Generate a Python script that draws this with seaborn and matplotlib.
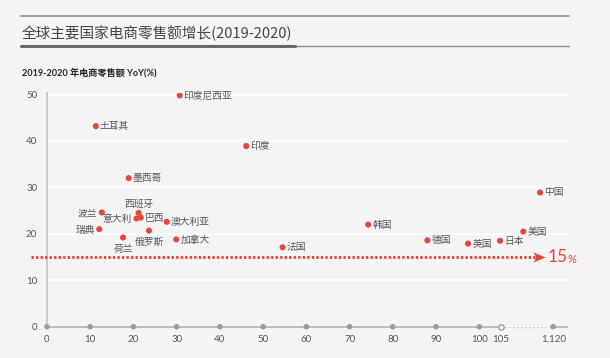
import numpy as np
import pandas as pd
import matplotlib
matplotlib.use("Agg")
import matplotlib.pyplot as plt
from matplotlib.lines import Line2D
from matplotlib.path import Path
import seaborn as sns

# ---------------- data ----------------
countries = ["印度尼西亚", "土耳其", "印度", "墨西哥", "波兰", "西班牙", "意大利", "巴西",
             "澳大利亚", "瑞典", "俄罗斯", "荷兰", "加拿大", "法国", "韩国", "德国",
             "英国", "日本", "美国", "中国"]
sales = [30.7, 11.3, 46.1, 18.9, 12.7, 21.2, 20.7, 21.7,
         27.7, 12.1, 23.6, 17.6, 29.9, 54.5, 74.3, 88.0,
         97.4, 104.8, 540, 865]
growth = [49.8, 43.2, 38.9, 32.0, 24.6, 24.5, 23.3, 23.5,
          22.6, 21.0, 20.7, 19.2, 18.8, 17.1, 22.0, 18.6,
          17.9, 18.5, 20.5, 28.9]
x_ticks = [0, 10, 20, 30, 40, 50, 60, 70, 80, 90, 100, 105, 1120]
x_tick_labels = ["0", "10", "20", "30", "40", "50", "60", "70", "80", "90", "100", "105", "1,120"]
y_ticks = [0, 10, 20, 30, 40, 50]
threshold = 15
break_start, break_end = 105, 1120

title = "全球主要国家电商零售额增长(2019-2020)"
subtitle = "2019-2020 年电商零售额 YoY(%)"

# label placement (layout only)
label_place = {
    "波兰": "left", "意大利": "left", "瑞典": "left",
    "西班牙": "above", "荷兰": "below", "俄罗斯": "below",
}

df = pd.DataFrame({"country": countries, "sales": sales, "growth": growth})

# ---------------- style ----------------
sns.set_theme(style="white")
BG = "#f4f4f4"
RED = "#e8443a"
plt.rcParams["font.family"] = ["Lato", "Noto Sans CJK SC", "DejaVu Sans"]
plt.rcParams["axes.unicode_minus"] = False

fig = plt.figure(figsize=(6.10, 3.58), dpi=100, facecolor=BG)
ax = fig.add_axes([0.0770, 0.0874, 0.8536, 0.6525])
ax.set_facecolor(BG)

# broken x scale: linear up to 105, compressed beyond
K = 0.01192

def fwd(x):
    x = np.asarray(x, dtype=float)
    return np.where(x <= break_start, x, break_start + (x - break_start) * K)

def inv(y):
    y = np.asarray(y, dtype=float)
    return np.where(y <= break_start, y, break_start + (y - break_start) / K)

ax.set_xscale("function", functions=(fwd, inv))
ax.set_xlim(0, 1401)
ax.set_ylim(0, 50.3)

# grid
ax.set_yticks(y_ticks)
ax.yaxis.grid(True, color="white", lw=1.3)
ax.xaxis.grid(False)
ax.set_axisbelow(True)

# points
sns.scatterplot(data=df, x="sales", y="growth", ax=ax, color=RED, s=19,
                edgecolor="none", zorder=5, legend=False)

# labels
cjk = ["Noto Sans CJK SC", "DejaVu Sans"]
for c, xv, yv in zip(countries, sales, growth):
    place = label_place.get(c, "right")
    if place == "right":
        off, ha, va = (3.0, 0), "left", "center"
    elif place == "left":
        off, ha, va = (-3.2, -0.4), "right", "center"
    elif place == "above":
        off, ha, va = (0.5, 6.8), "center", "center"
    else:
        off, ha, va = (0.3, -8.2), "center", "center"
    ax.annotate(c, (xv, yv), xytext=off, textcoords="offset points",
                ha=ha, va=va, fontsize=7, color="#555555", family=cjk, zorder=6)

# threshold dotted arrow
ytr = ax.get_yaxis_transform()
ax.plot([-0.031, 0.945], [threshold, threshold], transform=ytr, color=RED,
        lw=2.1, linestyle=(0, (0.8, 0.75)), dash_capstyle="butt", clip_on=False, zorder=4)
arrow = Path([(-1, -0.85), (1, 0), (-1, 0.85), (-0.55, 0), (-1, -0.85)],
             [Path.MOVETO, Path.LINETO, Path.LINETO, Path.LINETO, Path.CLOSEPOLY])
ax.plot([0.944], [threshold], transform=ytr, marker=arrow, markersize=8.5,
        color=RED, markeredgewidth=0, clip_on=False, zorder=5)
ax.text(0.9616, threshold, "15", transform=ytr, color=RED, fontsize=12.5,
        ha="left", va="center", family=["Lato", "DejaVu Sans"], clip_on=False)
ax.text(0.9995, threshold - 0.6, "%", transform=ytr, color=RED, fontsize=8,
        ha="left", va="center", family=["Lato", "DejaVu Sans"], clip_on=False)

# spines
for s in ["top", "right", "bottom"]:
    ax.spines[s].set_visible(False)
ax.spines["left"].set_color("#c6c6c6")
ax.spines["left"].set_linewidth(1.3)

# custom x axis line with break
xtr = ax.get_xaxis_transform()
xmax = ax.get_xlim()[1]
ax.plot([0, break_start], [0, 0], transform=xtr, color="#b8b8b8", lw=1.3,
        clip_on=False, zorder=3, solid_capstyle="butt")
ax.plot([break_start, break_end], [0, 0], transform=xtr, color="#b0b0b0", lw=0.9,
        linestyle=(0, (0.8, 2.4)), clip_on=False, zorder=3)
ax.plot([break_end, xmax], [0, 0], transform=xtr, color="#b8b8b8", lw=1.3,
        clip_on=False, zorder=3, solid_capstyle="butt")
filled = [t for t in x_ticks if t != break_start]
ax.scatter(filled, [0] * len(filled), transform=xtr, s=16, color="#9c9c9c",
           edgecolor="none", clip_on=False, zorder=4)
ax.scatter([break_start], [0], transform=xtr, s=15, facecolor="white",
           edgecolor="#9c9c9c", linewidth=1.0, clip_on=False, zorder=4)

# ticks
ax.set_xticks(x_ticks)
ax.set_xticklabels(x_tick_labels)
ax.tick_params(axis="x", length=0, pad=6, labelsize=7, labelcolor="#555555")
ax.tick_params(axis="y", length=0, pad=7, labelsize=7, labelcolor="#555555")
ax.set_xlabel("")
ax.set_ylabel("")

# header
fig.add_artist(Line2D([0.034, 0.932], [0.9553, 0.9553], color="#8a8a8a", lw=1.1))
fig.add_artist(Line2D([0.034, 0.932], [0.8707, 0.8707], color="#8a8a8a", lw=1.0))
fig.add_artist(Line2D([0.034, 0.4836], [0.8707, 0.8707], color="#666666", lw=2.2))
fig.text(0.036, 0.907, title, fontsize=10.5, color="#444444", ha="left", va="center",
         family=["Noto Sans CJK SC", "DejaVu Sans"])
fig.text(0.036, 0.797, subtitle, fontsize=6.6, color="#222222", ha="left", va="center",
         weight="bold")

fig.savefig("out.png", dpi=100, facecolor=BG)
